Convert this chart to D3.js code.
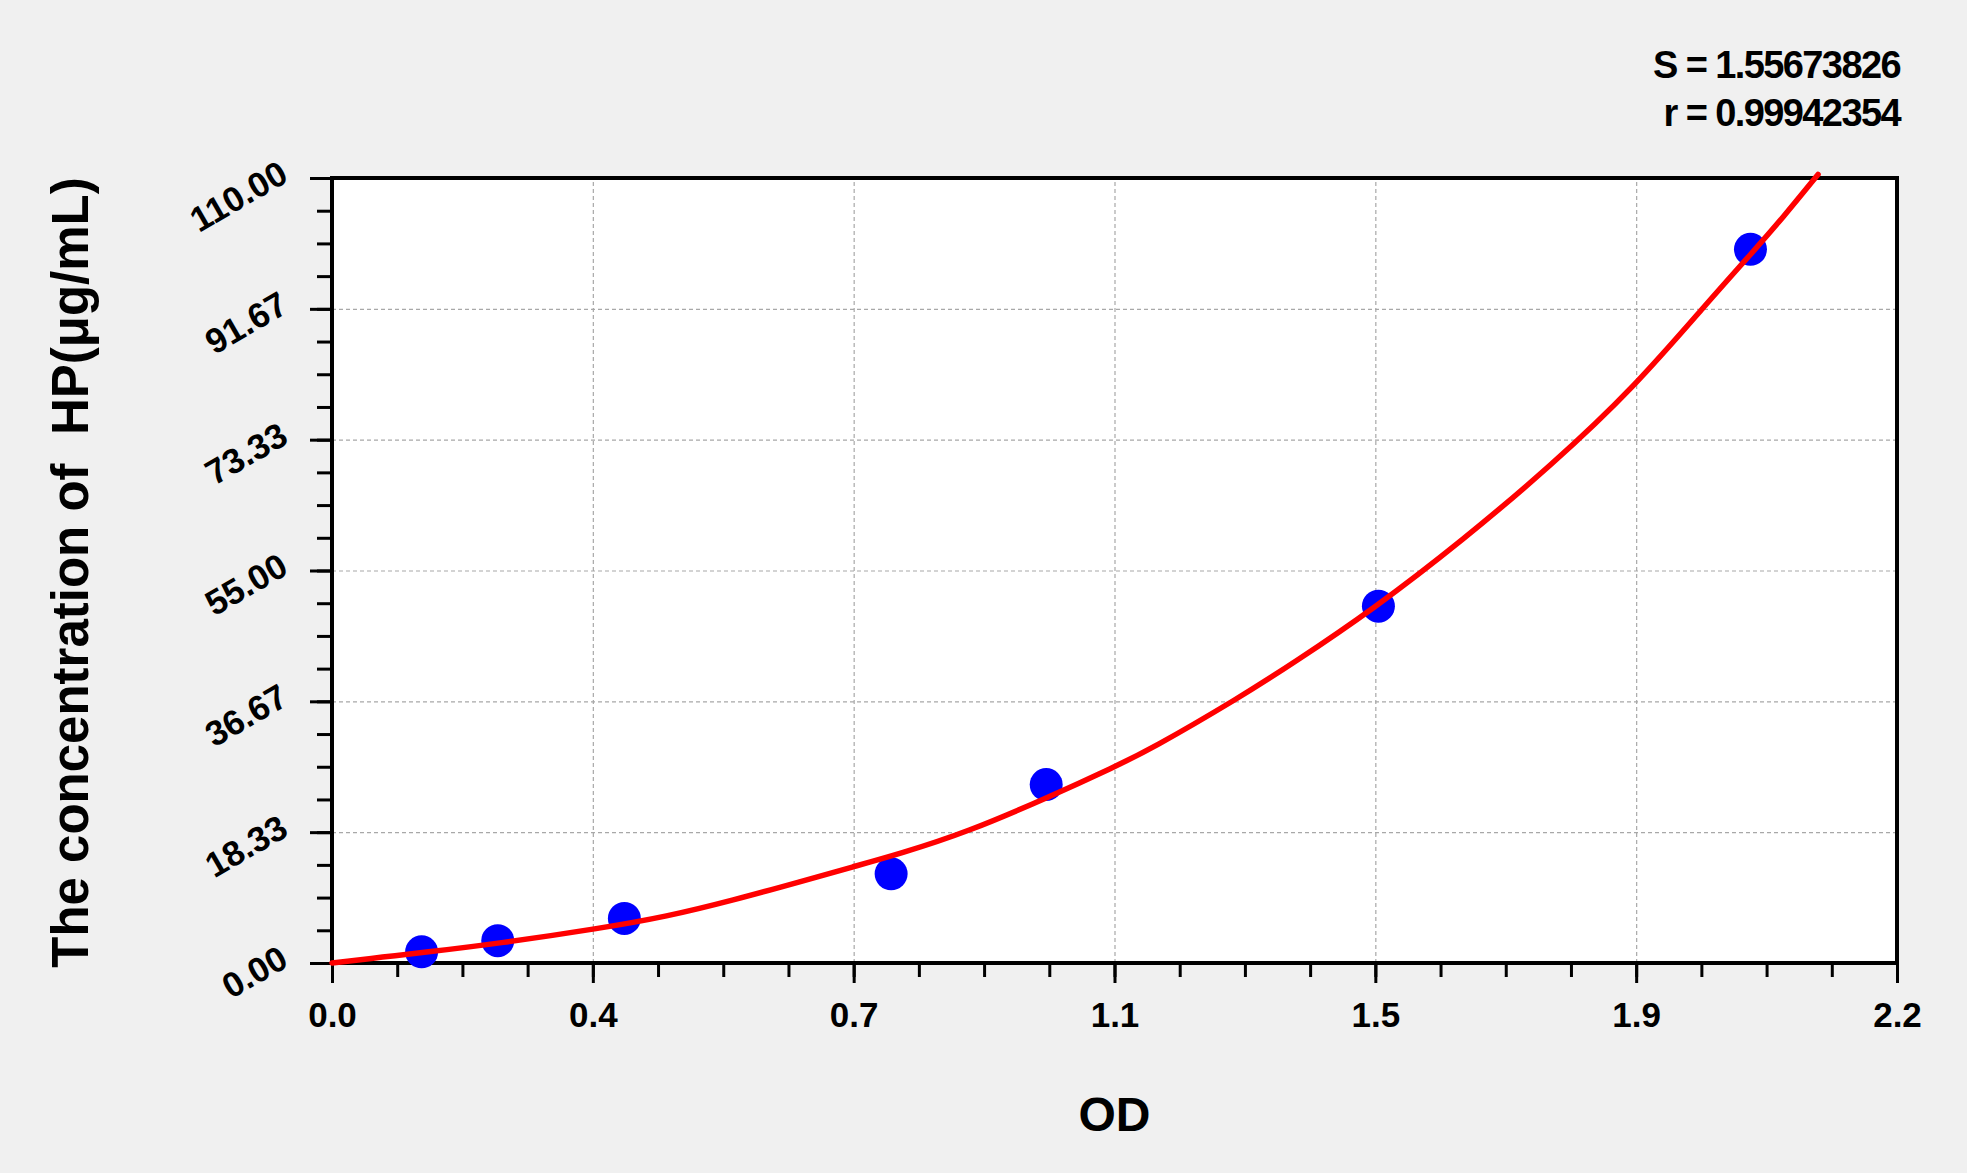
<!DOCTYPE html>
<html>
<head>
<meta charset="utf-8">
<script src="https://cdn.jsdelivr.net/npm/d3@7"></script>
<style>
  body { margin: 0; background: #f0f0f0; }
  svg { display: block; font-family: "Liberation Sans", Arial, sans-serif; font-weight: bold; }
</style>
</head>
<body>
<div id="chart"></div>
<script>
// standard points
var odValues = [0.126, 0.233, 0.411, 0.786, 1.004, 1.471, 1.994];
var concValues = [1.56, 3.13, 6.25, 12.5, 25, 50, 100];

// fitted curve
var curveOD = [0, 0.075, 0.126, 0.236, 0.377, 0.470, 0.564, 0.658, 0.733, 0.798, 0.892, 1.009,
  1.100, 1.150, 1.275, 1.351, 1.464, 1.589, 1.715, 1.831, 1.934, 1.997, 2.040, 2.089];
var curveConc = [0, 0.88, 1.44, 2.76, 4.86, 6.49, 8.80, 11.39, 13.50, 15.30, 18.30, 23.30,
  27.50, 29.90, 37.15, 42.00, 49.60, 59.20, 69.80, 80.70, 92.60, 99.60, 104.50, 110.50];

var xTickLabels = ["0.0", "0.4", "0.7", "1.1", "1.5", "1.9", "2.2"];
var yTickLabels = ["0.00", "18.33", "36.67", "55.00", "73.33", "91.67", "110.00"];

var statLines = ["S = 1.55673826", "r = 0.99942354"];

var width = 1967, height = 1173;
var plotLeft = 332, plotRight = 1897, plotTop = 178, plotBottom = 963;

var svg = d3.select("#chart").append("svg")
  .attr("width", width)
  .attr("height", height);

var xScale = d3.scaleLinear().domain([0, 2.2]).range([plotLeft, plotRight]);
var yScale = d3.scaleLinear().domain([0, 110]).range([plotBottom, plotTop]);

var xMajor = d3.range(7).map(function(i) { return i * 2.2 / 6; });
var yMajor = d3.range(7).map(function(i) { return i * 110 / 6; });
var xMinor = d3.range(25).map(function(i) { return i * 2.2 / 24; });
var yMinor = d3.range(25).map(function(i) { return i * 110 / 24; });

// plot background
svg.append("rect")
  .attr("x", plotLeft).attr("y", plotTop)
  .attr("width", plotRight - plotLeft).attr("height", plotBottom - plotTop)
  .attr("fill", "#fff");

// grid
function styleGrid(g) {
  g.select(".domain").remove();
  g.selectAll("line").attr("stroke", "#a8a8a8").attr("stroke-width", 1.2).attr("stroke-dasharray", "4,3");
}

svg.append("g")
  .attr("transform", "translate(0," + plotBottom + ")")
  .call(d3.axisBottom(xScale).tickValues(xMajor).tickSize(-(plotBottom - plotTop)).tickFormat(""))
  .call(styleGrid);

svg.append("g")
  .attr("transform", "translate(" + plotLeft + ",0)")
  .call(d3.axisLeft(yScale).tickValues(yMajor).tickSize(-(plotRight - plotLeft)).tickFormat(""))
  .call(styleGrid);

// minor ticks
function styleTicks(g) {
  g.select(".domain").remove();
  g.selectAll("line").attr("stroke", "#000").attr("stroke-width", 3);
}

svg.append("g")
  .attr("transform", "translate(0," + plotBottom + ")")
  .call(d3.axisBottom(xScale).tickValues(xMinor).tickSize(14).tickFormat(""))
  .call(styleTicks);

svg.append("g")
  .attr("transform", "translate(" + plotLeft + ",0)")
  .call(d3.axisLeft(yScale).tickValues(yMinor).tickSize(15).tickFormat(""))
  .call(styleTicks);

// major ticks with labels
svg.append("g")
  .attr("transform", "translate(0," + plotBottom + ")")
  .call(d3.axisBottom(xScale).tickValues(xMajor).tickSize(20)
    .tickFormat(function(d, i) { return xTickLabels[i]; }))
  .call(styleTicks)
  .call(function(g) {
    g.selectAll("text")
      .attr("y", 64).attr("dy", null)
      .attr("fill", "#000")
      .style("font-size", "35px")
      .style("font-family", "'Liberation Sans', Arial, sans-serif")
      .style("font-weight", "bold");
  });

svg.append("g")
  .attr("transform", "translate(" + plotLeft + ",0)")
  .call(d3.axisLeft(yScale).tickValues(yMajor).tickSize(22)
    .tickFormat(function(d, i) { return yTickLabels[i]; }))
  .call(styleTicks)
  .call(function(g) {
    g.selectAll("text")
      .attr("x", null).attr("dy", null)
      .attr("transform", "translate(-42,2) rotate(-30)")
      .attr("text-anchor", "end")
      .attr("fill", "#000")
      .style("font-size", "35px")
      .style("font-family", "'Liberation Sans', Arial, sans-serif")
      .style("font-weight", "bold");
  });

// frame
svg.append("rect")
  .attr("x", plotLeft).attr("y", plotTop)
  .attr("width", plotRight - plotLeft).attr("height", plotBottom - plotTop)
  .attr("fill", "none")
  .attr("stroke", "#000")
  .attr("stroke-width", 4);

// standard points
svg.selectAll("circle.pt")
  .data(odValues)
  .enter()
  .append("circle")
    .attr("class", "pt")
    .attr("cx", function(d) { return xScale(d); })
    .attr("cy", function(d, i) { return yScale(concValues[i]); })
    .attr("r", 16.5)
    .attr("fill", "#0000ff");

// fitted curve
var line = d3.line()
  .x(function(d) { return xScale(d); })
  .y(function(d, i) { return yScale(curveConc[i]); })
  .curve(d3.curveBasis);

svg.append("path")
  .datum(curveOD)
  .attr("d", line)
  .attr("fill", "none")
  .attr("stroke", "#ff0000")
  .attr("stroke-width", 5.5)
  .attr("stroke-linecap", "round");

// axis titles
svg.append("text")
  .attr("x", (plotLeft + plotRight) / 2)
  .attr("y", 1131)
  .attr("text-anchor", "middle")
  .style("font-size", "48px")
  .text("OD");

svg.append("text")
  .attr("transform", "translate(88," + ((plotTop + plotBottom) / 2 + 2) + ") rotate(-90)")
  .attr("text-anchor", "middle")
  .style("font-size", "51px")
  .style("white-space", "pre")
  .text("The concentration of  HP(\u03bcg/mL)");

// fit statistics
svg.selectAll("text.stat")
  .data(statLines)
  .enter()
  .append("text")
    .attr("class", "stat")
    .attr("x", 1900)
    .attr("y", function(d, i) { return 78 + i * 48; })
    .attr("text-anchor", "end")
    .style("font-size", "38px")
    .style("letter-spacing", "-1.6px")
    .text(function(d) { return d; });
</script>
</body>
</html>
